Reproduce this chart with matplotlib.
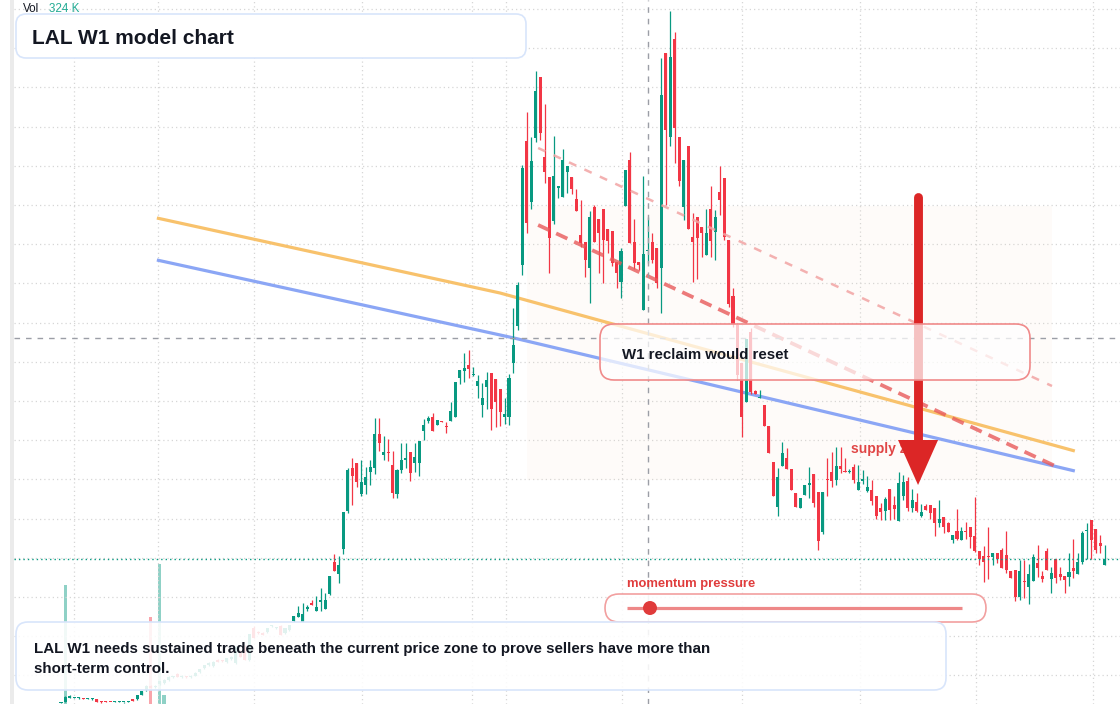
import numpy as np
import matplotlib
matplotlib.use("Agg")
import matplotlib.pyplot as plt
from matplotlib.patches import FancyBboxPatch, Rectangle, Circle
from matplotlib.lines import Line2D
from matplotlib.transforms import IdentityTransform

plt.rcParams['font.family'] = ['Liberation Sans', 'DejaVu Sans']

# weekly candles, oldest first
opens = [
    0.1, 0.2, 0.6, 0.6, 0.6, 0.6, 0.5, 0.5, 0.5, 0.25,
    0.25, 0.25, 0.2, 0.2, 0.2, 0.2, 0.5, 0.5, 0.9, 1.4,
    1.8, 1.7, 2.0, 2.1, 2.4, 2.7, 3.0, 2.7, 2.75, 2.7,
    2.8, 3.2, 3.6, 3.9, 3.8, 4.4, 4.35, 4.2, 4.5, 4.1,
    5.2, 5.6, 4.4, 7.6, 7.15, 7.1, 7.2, 7.8, 7.6, 7.8,
    7.1, 7.4, 8.3, 8.7, 8.2, 9.55, 10.1, 9.3, 10.2, 9.5,
    11.0, 14.2, 13.0, 15.5, 19.3, 23.6, 24.1, 21.0, 21.9, 23.2,
    23.6, 27.0, 24.9, 25.15, 23.9, 21.0, 23.4, 24.4, 25.2, 24.1,
    24.1, 27.3, 28.3, 28.7, 27.9, 28.25, 27.75, 28.3, 28.7, 32.6,
    33.3, 33.9, 32.9, 31.8, 29.9, 31.7, 33.1, 32.5, 31.5, 28.7,
    28.7, 34.1, 37.8, 43.9, 56.3, 50.2, 56.6, 62.7, 54.7, 52.7,
    48.3, 51.65, 50.7, 53.2, 52.7, 50.5, 46.9, 46.2, 43.6, 49.7,
    48.5, 49.5, 47.5, 47.3, 44.2, 42.2, 49.8, 54.4, 46.2, 44.2,
    39.4, 45.3, 46.2, 45.6, 43.6, 65.1, 56.7, 66.5, 56.7, 49.7,
    55.8, 46.7, 48.7, 47.7, 44.9, 49.5, 47.2, 51.2, 52.6, 46.4,
    40.8, 37.9, 34.1, 30.2, 37.2, 31.3, 30.6, 29.9, 27.8, 24.2,
    19.7, 23.8, 24.6, 23.5, 21.1, 19.6, 20.9, 21.95, 23.0, 21.2,
    17.2, 22.45, 23.2, 22.4, 23.8, 23.25, 23.2, 23.7, 21.4, 22.35,
    21.3, 21.4, 20.8, 19.6, 19.3, 21.5, 19.9, 18.3, 20.8, 22.3,
    19.6, 20.2, 18.8, 19.8, 19.9, 19.6, 18.1, 18.7, 18.1, 16.4,
    17.3, 16.4, 17.25, 17.7, 16.8, 15.3, 14.8, 14.75, 14.7, 15.1,
    15.4, 14.9, 13.3, 13.4, 10.7, 12.25, 11.7, 12.3, 14.1, 12.8,
    15.3, 12.5, 14.5, 13.0, 12.8, 12.7, 13.6, 13.0, 14.2, 17.3,
    18.4, 17.5, 16.1, 13.9,
]
highs = [
    0.2, 0.8, 0.9, 0.7, 0.7, 0.65, 0.6, 0.6, 0.55, 0.3,
    0.3, 0.25, 0.3, 0.3, 0.25, 0.3, 0.5, 0.9, 1.3, 1.9,
    1.9, 1.9, 2.3, 2.5, 2.8, 2.8, 3.1, 2.9, 2.8, 2.9,
    3.2, 3.5, 3.9, 4.2, 4.3, 4.5, 4.4, 4.6, 4.8, 5.8,
    5.4, 5.9, 7.0, 7.8, 7.3, 7.2, 7.6, 7.9, 7.7, 7.9,
    7.6, 7.9, 8.8, 9.8, 10.1, 9.9, 10.4, 10.8, 11.6, 11.1,
    12.8, 15.0, 14.8, 19.2, 23.6, 24.6, 24.1, 24.4, 23.7, 24.4,
    28.6, 28.6, 26.8, 26.5, 25.3, 23.5, 26.1, 26.1, 25.2, 26.1,
    26.3, 28.5, 28.8, 29.1, 28.4, 28.3, 28.2, 30.2, 32.2, 33.4,
    35.1, 35.4, 33.7, 32.9, 32.1, 33.2, 33.1, 32.5, 31.5, 30.6,
    33.0, 39.6, 42.2, 53.9, 59.2, 56.7, 63.3, 62.7, 60.0, 52.7,
    56.8, 51.7, 55.5, 53.8, 52.7, 51.5, 50.4, 46.2, 49.3, 49.9,
    48.5, 49.5, 47.5, 47.3, 44.2, 45.6, 53.4, 55.2, 48.5, 44.2,
    52.8, 48.7, 47.1, 45.6, 64.6, 65.1, 69.3, 67.2, 56.7, 54.4,
    55.8, 49.1, 48.7, 47.7, 49.5, 51.8, 49.4, 53.8, 52.6, 46.4,
    41.6, 38.0, 34.1, 36.5, 37.6, 31.4, 31.4, 29.9, 27.8, 24.2,
    23.6, 26.2, 25.6, 23.5, 21.1, 20.6, 21.9, 23.7, 23.0, 21.2,
    21.2, 24.6, 25.2, 25.7, 25.7, 24.6, 23.5, 24.0, 23.9, 23.4,
    22.8, 22.4, 20.8, 20.1, 20.7, 21.5, 20.8, 23.2, 22.9, 22.7,
    21.5, 21.1, 20.0, 20.0, 19.9, 19.6, 20.4, 18.7, 18.2, 16.9,
    19.5, 17.7, 18.2, 17.7, 20.7, 15.3, 15.8, 17.7, 15.1, 15.1,
    15.6, 17.3, 13.3, 13.4, 14.4, 14.4, 14.0, 15.0, 15.9, 13.3,
    15.6, 13.7, 14.5, 13.7, 12.8, 15.1, 16.5, 15.1, 17.3, 18.1,
    18.4, 17.5, 16.9, 15.9,
]
lows = [
    0.1, 0.2, 0.6, 0.6, 0.55, 0.5, 0.5, 0.45, 0.2, 0.15,
    0.2, 0.2, 0.2, 0.2, 0.15, 0.2, 0.3, 0.4, 0.9, 1.3,
    1.6, 1.6, 1.9, 2.0, 2.3, 2.6, 2.7, 2.6, 2.65, 2.6,
    2.8, 3.1, 3.5, 3.8, 3.7, 4.2, 4.25, 4.1, 4.4, 4.0,
    4.7, 4.4, 4.3, 6.6, 7.0, 6.9, 7.1, 7.7, 7.5, 6.9,
    7.0, 7.3, 8.2, 8.7, 8.2, 9.3, 9.9, 9.3, 9.3, 9.5,
    10.9, 13.3, 12.1, 15.0, 19.1, 19.9, 21.7, 20.8, 21.0, 21.9,
    23.0, 25.3, 24.4, 24.3, 20.6, 20.6, 23.1, 23.6, 22.3, 23.2,
    22.8, 26.4, 28.1, 27.3, 27.9, 28.2, 27.1, 28.3, 28.7, 32.0,
    32.2, 32.6, 32.8, 30.6, 28.7, 29.5, 27.4, 27.7, 27.8, 28.0,
    27.9, 33.1, 37.4, 42.9, 47.1, 49.5, 56.2, 56.4, 52.1, 43.1,
    48.0, 50.6, 50.7, 51.1, 51.0, 49.3, 45.7, 42.7, 40.1, 46.2,
    43.1, 42.1, 45.1, 43.8, 41.6, 40.6, 49.8, 46.1, 43.5, 43.4,
    39.4, 44.1, 44.1, 41.6, 39.1, 49.9, 55.8, 54.1, 51.8, 48.4,
    47.5, 42.2, 42.5, 44.7, 44.9, 44.7, 44.4, 48.9, 46.4, 39.7,
    37.7, 32.4, 26.7, 30.2, 31.0, 31.0, 30.6, 27.8, 25.1, 20.8,
    18.8, 23.8, 23.5, 21.4, 19.7, 19.6, 20.9, 20.6, 19.7, 15.4,
    17.0, 20.8, 21.7, 21.9, 23.1, 23.2, 23.1, 22.1, 21.4, 22.0,
    21.2, 19.9, 18.5, 18.4, 18.4, 18.4, 18.5, 18.3, 20.4, 19.3,
    19.2, 19.2, 18.7, 19.4, 18.5, 16.8, 17.7, 17.1, 17.2, 16.1,
    16.4, 16.4, 16.5, 15.6, 15.2, 13.9, 12.2, 12.5, 13.9, 14.1,
    13.6, 13.1, 12.6, 10.3, 10.4, 10.6, 10.0, 12.3, 12.7, 12.2,
    13.4, 11.1, 12.1, 12.4, 11.1, 11.8, 12.6, 13.0, 14.0, 14.5,
    14.5, 15.1, 15.1, 13.9,
]
closes = [
    0.15, 0.7, 0.8, 0.65, 0.65, 0.5, 0.55, 0.55, 0.2, 0.2,
    0.2, 0.2, 0.25, 0.25, 0.25, 0.25, 0.3, 0.9, 1.3, 1.8,
    1.6, 1.85, 2.3, 2.4, 2.7, 2.75, 2.7, 2.8, 2.7, 2.8,
    3.1, 3.5, 3.9, 4.1, 4.2, 4.2, 4.3, 4.6, 4.7, 5.7,
    4.7, 4.4, 7.0, 6.6, 7.1, 6.9, 7.6, 7.85, 7.65, 6.9,
    7.6, 7.9, 8.8, 9.1, 9.0, 9.6, 9.9, 9.7, 10.4, 10.4,
    12.8, 13.3, 13.9, 19.2, 23.4, 22.8, 22.2, 22.2, 22.7, 23.7,
    27.0, 26.1, 25.2, 25.1, 21.1, 23.4, 24.4, 24.6, 23.1, 24.7,
    26.3, 27.9, 28.6, 27.3, 28.4, 28.2, 27.7, 29.3, 32.2, 33.4,
    33.6, 33.5, 32.95, 32.3, 30.6, 32.4, 29.5, 30.2, 29.2, 29.0,
    32.6, 35.9, 41.9, 53.6, 48.1, 54.3, 61.3, 57.1, 53.2, 46.6,
    52.8, 51.7, 54.4, 53.8, 51.5, 49.3, 46.1, 44.4, 48.7, 46.2,
    47.1, 46.4, 46.3, 44.1, 43.1, 45.3, 53.4, 46.1, 44.1, 43.9,
    45.0, 45.4, 44.4, 42.1, 60.9, 57.4, 64.7, 57.6, 52.3, 54.4,
    47.5, 46.2, 46.6, 47.1, 47.1, 46.3, 48.7, 50.4, 46.7, 40.0,
    38.0, 32.9, 28.7, 36.5, 31.2, 31.0, 30.7, 27.8, 25.1, 20.8,
    22.7, 25.1, 23.5, 21.4, 19.7, 20.6, 21.9, 22.0, 20.1, 16.3,
    21.2, 22.4, 22.3, 23.8, 23.5, 23.2, 23.3, 22.4, 22.2, 22.4,
    21.7, 20.3, 18.8, 19.2, 20.5, 19.4, 19.5, 22.1, 22.2, 19.6,
    20.4, 19.3, 19.2, 19.4, 19.1, 18.1, 18.5, 17.7, 17.2, 16.9,
    16.5, 17.3, 17.2, 16.7, 15.3, 14.5, 14.2, 14.7, 15.1, 14.5,
    13.6, 13.4, 12.6, 10.7, 13.3, 12.2, 13.0, 14.7, 13.6, 12.5,
    13.4, 13.1, 12.6, 12.7, 12.4, 13.2, 13.3, 14.2, 17.1, 17.4,
    16.4, 15.4, 15.8, 14.5,
]

# the volume bars that show (K)
vol_idx = [1, 20, 22, 23]
vol_k = [23800, 17400, 28000, 1800]
last_vol = '324 K'

# overlay lines (bar index, price)
orange_x = [21.4, 98.0, 226.3]
orange_y = [48.6, 41.1, 25.3]
blue_x = [21.4, 101.1, 226.3]
blue_y = [44.4, 36.6, 23.3]
trend_x = [106.5, 221.9]
trend_y = [47.9, 23.8]
upper_x = [106.5, 221.2]
upper_y = [55.6, 31.8]

zone_x = (104.0, 221.2)
zone_y = (22.4, 49.8)
last_price = 14.5
cross_x, cross_y = 131.0, 36.6
month_lines = [2.9, 21.65, 43.1, 67.2, 91.7, 99.3, 125.2, 152.0, 178.3, 204.2, 230.4]

TEAL = '#089981'
RED = '#f23645'
INK = '#131722'

W, H = 1120, 704
fig = plt.figure(figsize=(11.2, 7.04), dpi=100)
fig.patch.set_facecolor('white')
fig.add_artist(Rectangle((10, 0), 4, H, transform=IdentityTransform(),
                         facecolor='#ebebeb', edgecolor='none', zorder=0))

rect = [14 / W, 0, (W - 14) / W, 1]
xlim = (-10.49, 236.38)

# volume pane underneath
vax = fig.add_axes(rect)
vax.set_xlim(*xlim)
vax.set_ylim(0, max(vol_k) * H / 140)
vax.axis('off')
vcol = [TEAL if closes[i] >= opens[i] else RED for i in vol_idx]
vax.bar(vol_idx, vol_k, width=0.75, color=vcol, alpha=0.45, linewidth=0)

ax = fig.add_axes(rect)
ax.set_xlim(*xlim)
ax.set_ylim(0, 70.4)
ax.axis('off')

# grid
for gy in np.arange(2.86, 70.4, 3.92):
    ax.axhline(gy, color='#d6d6d6', lw=0.9, ls=(0, (1, 2.4)), zorder=0.5)
for gx in month_lines:
    ax.axvline(gx, color='#d6d6d6', lw=0.9, ls=(0, (1, 2.4)), zorder=0.5)

ax.add_patch(Rectangle((zone_x[0], zone_y[0]), zone_x[1] - zone_x[0], zone_y[1] - zone_y[0],
                       facecolor='#f7dcc4', alpha=0.09, edgecolor='none', zorder=0.8))

ax.plot(orange_x, orange_y, color='#f8c26c', lw=2.3, zorder=2, solid_capstyle='butt')
ax.plot(blue_x, blue_y, color='#8ba6f5', lw=2.3, zorder=2, solid_capstyle='butt')

# candles
o = np.array(opens)
h = np.array(highs)
l = np.array(lows)
c = np.array(closes)
x = np.arange(len(o))
col = np.where(c >= o, TEAL, RED)
ax.vlines(x, l, h, colors=col, lw=0.9, zorder=3)
ax.bar(x, np.maximum(np.abs(c - o), 0.12), bottom=np.minimum(o, c), width=0.68,
       color=col, linewidth=0, zorder=3.1)

ax.plot(upper_x, upper_y, color='#f2a4a4', lw=1.8, ls=(0, (3.2, 3.6)), alpha=0.85, zorder=3.5)
ax.plot(trend_x, trend_y, color='#e85a5a', lw=2.7, ls=(0, (3.3, 2.0)), alpha=0.8, zorder=3.5)

ax.axvline(cross_x, color='#9b9ea6', lw=1, ls=(0, (4, 4.3)), zorder=3.6)
ax.axhline(cross_y, color='#9b9ea6', lw=1, ls=(0, (4, 4.3)), zorder=3.6)
ax.axhline(last_price, color=TEAL, lw=1, ls=(0, (1, 2.2)), zorder=3.6)

ax.text(176.3, 25.1, 'supply zone', color='#e04646', fontsize=10, fontweight='bold',
        ha='left', va='baseline', zorder=4)

# arrow
ax.plot([191.3, 191.3], [50.7, 26.0], color='#dc2626', lw=6.4, solid_capstyle='round', zorder=4.5)
ax.fill([191.3 - 4.46, 191.3 + 4.46, 191.3], [26.4, 26.4, 21.9], color='#dc2626',
        linewidth=0, zorder=4.5)


def rbox(x0, y0, x1, y1, r, ec, fc=(1, 1, 1, 1), lw=1.2):
    fig.add_artist(FancyBboxPatch((x0, H - y1), x1 - x0, y1 - y0,
                                  boxstyle=f'round,pad=0,rounding_size={r}',
                                  transform=IdentityTransform(), facecolor=fc,
                                  edgecolor=ec, lw=lw, zorder=5))


def label(x0, ybase, s, **kw):
    fig.text(x0 / W, 1 - ybase / H, s, ha='left', va='baseline', zorder=6, **kw)


fig.text(23 / W, 1 - 12.5 / H, 'Vol', color=INK, fontsize=8.4, va='baseline')
fig.text(49 / W, 1 - 12.5 / H, last_vol, color='#22ab94', fontsize=8.4, va='baseline')

rbox(16, 14, 526, 58, 10, '#d8e5fb')
label(32, 43.5, 'LAL W1 model chart', color=INK, fontsize=15, fontweight='bold')

rbox(600, 324, 1030, 380, 14, '#f08a8a', fc=(1, 1, 1, 0.72))
label(622, 359, 'W1 reclaim would reset', color=INK, fontsize=10.8, fontweight='bold')

label(627, 587, 'momentum pressure', color='#e03c3c', fontsize=9.4, fontweight='bold')
rbox(605, 594, 986, 622, 14, '#f2a0a0', fc=(1, 1, 1, 0.9))
fig.add_artist(Line2D([627, 962], [H - 608, H - 608], transform=IdentityTransform(),
                      color='#ee8888', lw=2.3, zorder=6, solid_capstyle='butt'))
fig.add_artist(Circle((650, H - 608), 7, transform=IdentityTransform(),
                      facecolor='#e03b3b', edgecolor='none', zorder=6.5))

rbox(16, 622, 946, 690, 12, '#d8e5fb', fc=(1, 1, 1, 0.88))
label(34, 653, 'LAL W1 needs sustained trade beneath the current price zone to prove sellers have more than',
      color=INK, fontsize=10.9, fontweight='bold')
label(34, 673, 'short-term control.', color=INK, fontsize=10.9, fontweight='bold')

fig.savefig('out.png', dpi=100)
